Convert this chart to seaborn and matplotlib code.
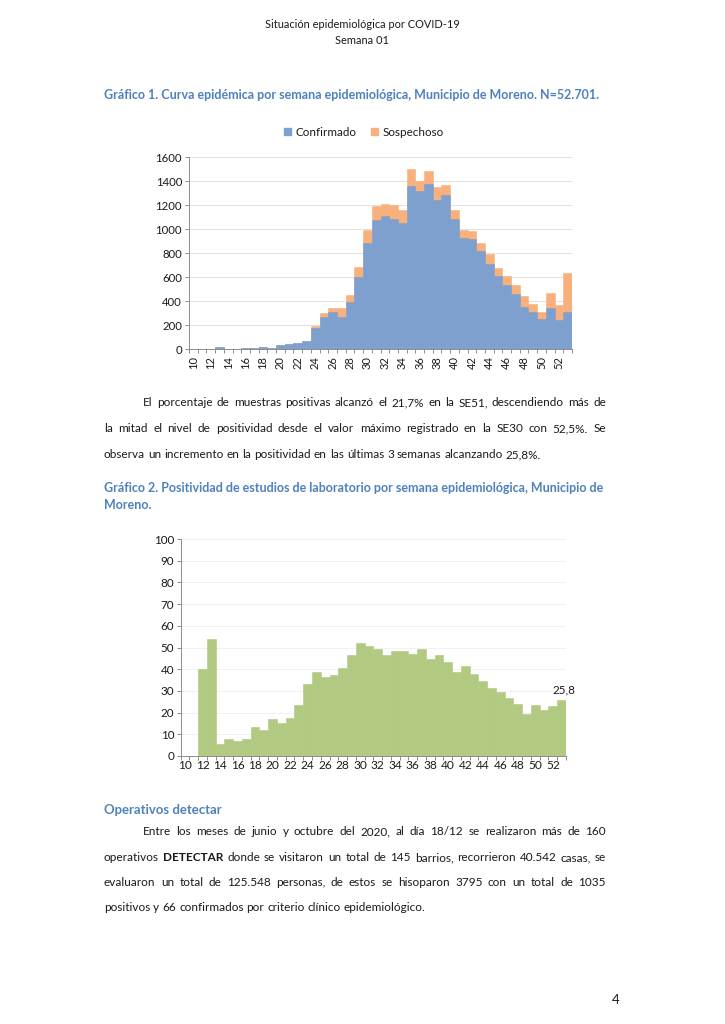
import numpy as np
import pandas as pd
import matplotlib
matplotlib.use('Agg')
import matplotlib.pyplot as plt
from matplotlib.patches import Patch
import seaborn as sns

# ---- data ----
semanas = list(range(10, 54))
confirmado = [0, 0, 3, 20, 3, 4, 5, 8, 13, 12, 33, 45, 52, 68, 175, 270, 306, 270, 395, 600,
              882, 1077, 1111, 1083, 1050, 1361, 1314, 1378, 1239, 1286, 1085, 924, 916, 813,
              710, 610, 534, 459, 353, 311, 248, 340, 242, 306]
sospechoso = [0, 0, 0, 0, 0, 0, 0, 0, 0, 0, 0, 0, 0, 2, 20, 28, 34, 70, 55, 87,
              112, 117, 97, 119, 105, 139, 83, 103, 111, 78, 76, 64, 67, 69,
              83, 64, 78, 75, 92, 65, 58, 125, 125, 331]

semanas_pos = list(range(12, 54))
positividad = [40.0, 53.8, 5.5, 8.0, 6.8, 7.8, 13.2, 11.8, 17.1, 15.1, 17.7, 23.7, 33.4, 38.6,
               36.5, 37.1, 40.6, 46.5, 52.3, 50.5, 49.5, 46.5, 48.6, 48.6, 47.1, 49.5, 44.9,
               46.5, 43.1, 38.5, 41.5, 37.8, 34.5, 31.5, 29.5, 26.5, 23.8, 19.5, 23.4, 21.1,
               23.1, 25.8]

df1 = pd.DataFrame({'semana': semanas, 'confirmado': confirmado, 'sospechoso': sospechoso})
df1['total'] = df1['confirmado'] + df1['sospechoso']
df2 = pd.DataFrame({'semana': semanas_pos, 'positividad': positividad})

AZUL = '#7DA0CE'
NARANJA = '#F8B07C'
VERDE = '#B1C980'
TITULO = '#4F81BD'
TEXTO = '#1A1A1A'

sns.set_theme(style='white')
plt.rcParams['font.family'] = ['Lato', 'DejaVu Sans']

W, H = 725, 1024
fig = plt.figure(figsize=(W / 100, H / 100), dpi=100)
fig.patch.set_facecolor('white')
renderer = fig.canvas.get_renderer()


def fx(x):
    return x / W


def fy(y):
    return 1 - y / H


def width_of(s, size, weight='normal'):
    t = fig.text(0, 0, s, fontsize=size, fontweight=weight)
    w = t.get_window_extent(renderer).width
    t.remove()
    return w


def fit_size(s, target_w, weight='normal'):
    return 10 * target_w / width_of(s, 10, weight)


def draw_line(line, x0, x1, y, size, justify):
    # y is the text's visual centre in pixels; words sit on a common baseline
    base = y + 0.36 * size * 100 / 72
    words = line.split(' ')
    texts, widths = [], []
    for w in words:
        bold = w.startswith('**')
        w = w.strip('*')
        t = fig.text(0, fy(base), w, fontsize=size, va='baseline', color=TEXTO,
                     fontweight='bold' if bold else 'normal')
        texts.append(t)
        widths.append(t.get_window_extent(renderer).width)
    space = width_of('a a', size) - width_of('aa', size)
    gap = (x1 - x0 - sum(widths)) / (len(words) - 1) if justify else space
    x = x0
    for t, w in zip(texts, widths):
        t.set_x(fx(x))
        x += w + gap


LEFT, RIGHT, INDENT = 104, 606, 143

p1 = ['El porcentaje de muestras positivas alcanzó el 21,7% en la SE51, descendiendo más de',
      'la mitad el nivel de positividad desde el valor máximo registrado en la SE30 con 52,5%. Se',
      'observa un incremento en la positividad en las últimas 3 semanas alcanzando 25,8%.']
p2 = ['Entre los meses de junio y octubre del 2020, al día 18/12 se realizaron más de 160',
      'operativos **DETECTAR** donde se visitaron un total de 145 barrios, recorrieron 40.542 casas, se',
      'evaluaron un total de 125.548 personas, de estos se hisoparon 3795 con un total de 1035',
      'positivos y 66 confirmados por criterio clínico epidemiológico.']

# body size calibrated on the two unjustified last lines
BODY = 0.5 * (fit_size(p1[2], 433) + fit_size(p2[3], 325))

# ---- header ----
HEAD = fit_size('Situación epidemiológica por COVID-19', 194)
fig.text(fx(362), fy(25), 'Situación epidemiológica por COVID-19', fontsize=HEAD,
         ha='center', va='center', color=TEXTO)
fig.text(fx(362), fy(40), 'Semana 01', fontsize=HEAD, ha='center', va='center', color=TEXTO)

tit1 = 'Gráfico 1. Curva epidémica por semana epidemiológica, Municipio de Moreno. N=52.701.'
TIT = fit_size(tit1, 497, 'bold')
fig.text(fx(LEFT), fy(95), tit1, fontsize=TIT, color=TITULO, fontweight='bold', va='center')

# ---- chart 1 ----
ax1 = fig.add_axes([fx(189), fy(349), fx(572) - fx(189), fy(157) - fy(349)])
sns.barplot(data=df1, x='semana', y='total', native_scale=True, width=1, color=NARANJA,
            saturation=1, errorbar=None, edgecolor=NARANJA, linewidth=0.4, ax=ax1)
sns.barplot(data=df1, x='semana', y='confirmado', native_scale=True, width=1, color=AZUL,
            saturation=1, errorbar=None, edgecolor=AZUL, linewidth=0.4, ax=ax1)
ax1.set_xlim(9.5, 53.5)
ax1.set_ylim(0, 1600)
ax1.set_yticks(range(0, 1601, 200))
ax1.set_xticks(range(10, 53, 2))
ax1.set_xticklabels([str(s) for s in range(10, 53, 2)], rotation=90)
ax1.set_xticks(np.arange(9.5, 54, 1), minor=True)
ax1.yaxis.grid(True, color='#DCDCDC', linewidth=0.6)
ax1.set_axisbelow(True)
for side in ['top', 'right']:
    ax1.spines[side].set_visible(False)
for side in ['left', 'bottom']:
    ax1.spines[side].set_color('#8C8C8C')
    ax1.spines[side].set_linewidth(0.7)
ax1.tick_params(axis='y', which='major', left=True, length=3, width=0.7, color='#8C8C8C',
                pad=2, labelsize=8.2, labelcolor=TEXTO)
ax1.tick_params(axis='x', which='major', bottom=False, length=0, pad=5, labelsize=8,
                labelcolor=TEXTO)
ax1.tick_params(axis='x', which='minor', bottom=True, length=3, width=0.7, color='#8C8C8C')
ax1.set_xlabel('')
ax1.set_ylabel('')

fig.legend(handles=[Patch(color=AZUL, label='Confirmado'), Patch(color=NARANJA, label='Sospechoso')],
           loc='center', bbox_to_anchor=(fx(364), fy(132)), ncol=2, frameon=False,
           handlelength=0.6, handleheight=0.6, handletextpad=0.35, columnspacing=1.3,
           fontsize=8.4, labelcolor=TEXTO)

# ---- paragraph 1 ----
draw_line(p1[0], INDENT, RIGHT, 402, BODY, True)
draw_line(p1[1], LEFT, RIGHT, 428, BODY, True)
draw_line(p1[2], LEFT, RIGHT, 454, BODY, False)

tit2 = 'Gráfico 2. Positividad de estudios de laboratorio por semana epidemiológica, Municipio de'
fig.text(fx(LEFT), fy(488), tit2, fontsize=TIT, color=TITULO, fontweight='bold', va='center')
fig.text(fx(LEFT), fy(505), 'Moreno.', fontsize=TIT, color=TITULO, fontweight='bold', va='center')

# ---- chart 2 ----
ax2 = fig.add_axes([fx(180.6), fy(756), fx(566) - fx(180.6), fy(539) - fy(756)])
sns.barplot(data=df2, x='semana', y='positividad', native_scale=True, width=1, color=VERDE,
            saturation=1, errorbar=None, edgecolor=VERDE, linewidth=0.4, ax=ax2)
ax2.set_xlim(9.5, 53.5)
ax2.set_ylim(0, 100)
ax2.set_yticks(range(0, 101, 10))
ax2.set_xticks(range(10, 53, 2))
ax2.set_xticklabels([str(s) for s in range(10, 53, 2)])
ax2.set_xticks(np.arange(9.5, 54, 1), minor=True)
ax2.yaxis.grid(True, color='#EFEFEF', linewidth=0.6)
ax2.set_axisbelow(True)
for side in ['top', 'right']:
    ax2.spines[side].set_visible(False)
for side in ['left', 'bottom']:
    ax2.spines[side].set_color('#8C8C8C')
    ax2.spines[side].set_linewidth(0.7)
ax2.tick_params(axis='y', which='major', left=True, length=3, width=0.7, color='#8C8C8C',
                pad=1.5, labelsize=8.4, labelcolor=TEXTO)
ax2.tick_params(axis='x', which='major', bottom=False, length=0, pad=3, labelsize=8.6,
                labelcolor=TEXTO)
ax2.tick_params(axis='x', which='minor', bottom=True, length=3, width=0.7, color='#8C8C8C')
ax2.set_xlabel('')
ax2.set_ylabel('')
ultimo = df2.iloc[-1]
ax2.text(ultimo['semana'] + 0.3, ultimo['positividad'] + 2.2,
         f"{ultimo['positividad']:.1f}".replace('.', ','),
         ha='center', va='bottom', fontsize=8.4, color=TEXTO)

# ---- Operativos detectar ----
fig.text(fx(LEFT), fy(810), 'Operativos detectar', color=TITULO, fontweight='bold',
         fontsize=fit_size('Operativos detectar', 118, 'bold'), va='center')
draw_line(p2[0], INDENT, RIGHT, 831, BODY, True)
draw_line(p2[1], LEFT, RIGHT, 857, BODY, True)
draw_line(p2[2], LEFT, RIGHT, 882, BODY, True)
draw_line(p2[3], LEFT, RIGHT, 907, BODY, False)

fig.text(fx(616), fy(1000), '4', fontsize=9.5, color=TEXTO, ha='center', va='center')

fig.savefig('out.png', dpi=100)
